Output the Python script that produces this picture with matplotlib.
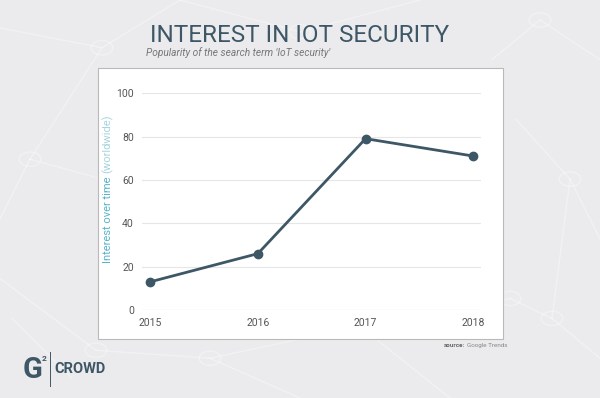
import matplotlib
matplotlib.use("Agg")
import matplotlib.pyplot as plt
from matplotlib.patches import Rectangle, Circle
from matplotlib.lines import Line2D

years = [2015, 2016, 2017, 2018]
interest = [13, 26, 79, 71]
yticks = [0, 20, 40, 60, 80, 100]

dark = "#3e5766"
bg = "#ebebed"

fig = plt.figure(figsize=(6, 3.98), dpi=100)
fig.patch.set_facecolor(bg)

# faint network pattern in the background
net = [((0.0, 0.93), (0.17, 0.88)), ((0.17, 0.88), (0.3, 1.0)), ((0.17, 0.88), (0.05, 0.6)),
       ((0.05, 0.6), (0.0, 0.45)), ((0.05, 0.6), (0.17, 0.55)), ((0.9, 0.95), (1.0, 0.85)),
       ((0.9, 0.95), (0.82, 0.85)), ((0.95, 0.55), (1.0, 0.4)), ((0.92, 0.2), (1.0, 0.1)),
       ((0.02, 0.2), (0.12, 0.05)), ((0.35, 0.1), (0.5, 0.0)), ((0.35, 0.1), (0.6, 0.18)),
       ((0.6, 0.18), (0.75, 0.0)), ((0.6, 0.18), (0.85, 0.25)), ((0.85, 0.25), (0.92, 0.2)),
       ((0.92, 0.2), (0.95, 0.55)), ((0.95, 0.55), (0.86, 0.7)), ((0.3, 1.0), (0.5, 0.92)),
       ((0.5, 0.92), (0.7, 1.0)), ((0.16, 0.12), (0.35, 0.1)), ((0.0, 0.3), (0.16, 0.12))]
for (x0, y0), (x1, y1) in net:
    fig.add_artist(Line2D([x0, x1], [y0, y1], transform=fig.transFigure,
                          color="white", lw=1.0, alpha=0.35, zorder=0))
for cx, cy in [(0.17, 0.88), (0.05, 0.6), (0.9, 0.95), (0.95, 0.55), (0.92, 0.2),
               (0.6, 0.18), (0.35, 0.1), (0.5, 0.92), (0.16, 0.12), (0.85, 0.25)]:
    fig.add_artist(Circle((cx, cy), 0.018, transform=fig.transFigure,
                          facecolor="none", edgecolor="white", lw=1.0, alpha=0.35, zorder=0))

# white card behind the chart
fig.patches.append(Rectangle((0.163, 0.148), 0.675, 0.681, transform=fig.transFigure,
                             facecolor="white", edgecolor="#b9b9b9", lw=0.8, zorder=1))

fig.text(0.5, 0.912, "INTEREST IN IOT SECURITY", ha="center", va="center",
         fontsize=17.5, color=dark, family="Roboto")
fig.text(0.243, 0.868, "Popularity of the search term 'IoT security'", ha="left", va="center",
         fontsize=7.3, color="#777777", style="italic", family="Roboto")

ax = fig.add_axes([0.237, 0.221, 0.565, 0.545])
ax.set_facecolor("none")
ax.set_zorder(2)
ax.plot(years, interest, color=dark, lw=2, marker="o", markersize=6, zorder=3)
ax.set_xlim(2014.926, 2018.074)
ax.set_ylim(0, 100)
ax.set_yticks(yticks)
ax.set_xticks(years)
ax.grid(axis="y", color="#e6e6e6", lw=0.8)
for s in ax.spines.values():
    s.set_visible(False)
ax.axhline(0, color="#d6d6d6", lw=0.8)
ax.tick_params(length=0, labelsize=7.5, labelcolor="#555555", pad=6)
for lab in ax.get_xticklabels() + ax.get_yticklabels():
    lab.set_family("Roboto")

# y label in two colours, placed one after the other
r = fig.canvas.get_renderer()
t1 = fig.text(0.18, 0.34, "Interest over time", rotation=90, ha="center", va="bottom",
              fontsize=8, color="#56b3c9", family="Roboto")
h = t1.get_window_extent(r).height / fig.bbox.height
fig.text(0.18, 0.34 + h + 0.008, "(worldwide)", rotation=90, ha="center", va="bottom",
         fontsize=8, color="#a6d3de", family="Roboto")

fig.text(0.775, 0.133, "source:", ha="right", va="center", fontsize=4.5,
         color="#666666", fontweight="bold", family="Roboto")
fig.text(0.778, 0.133, "Google Trends", ha="left", va="center", fontsize=4.5,
         color="#888888", family="Roboto")

# logo
fig.text(0.038, 0.07, "G", ha="left", va="center", fontsize=21, color=dark,
         fontweight="bold", family="Roboto")
fig.text(0.07, 0.1, "2", ha="left", va="center", fontsize=6, color=dark,
         fontweight="bold", family="Roboto")
fig.add_artist(Line2D([0.083, 0.083], [0.03, 0.115], transform=fig.transFigure,
                      color=dark, lw=0.7))
fig.text(0.09, 0.072, "CROWD", ha="left", va="center", fontsize=10.5, color=dark,
         fontweight="bold", family="Roboto")

fig.savefig("out.png", dpi=100, facecolor=fig.get_facecolor())
